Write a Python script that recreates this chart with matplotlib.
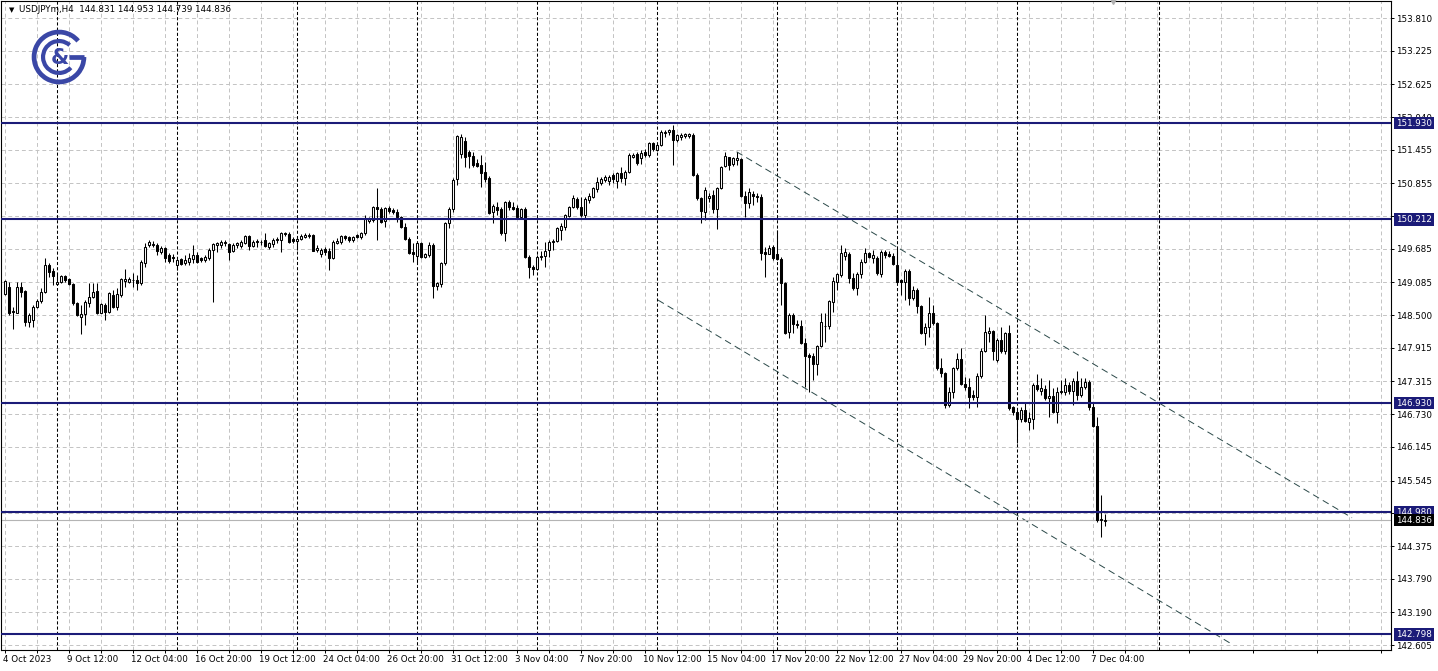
import numpy as np
import matplotlib.pyplot as plt
from matplotlib.patches import Arc
from matplotlib.transforms import ScaledTranslation

plt.rcParams['font.family'] = 'DejaVu Sans'

# USDJPYm H4 candles (4 Oct - 7 Dec 2023)
opens = [
    148.88, 149.00, 148.57, 148.54, 149.00, 148.93, 148.38, 148.41, 148.65, 148.75,
    148.91, 149.40, 149.29, 149.06, 149.09, 149.20, 149.15, 149.06, 148.72, 148.46,
    148.52, 148.72, 148.82, 148.93, 148.54, 148.68, 148.56, 148.86, 148.65, 148.86,
    149.11, 149.09, 149.13, 149.13, 149.07, 149.43, 149.75, 149.75, 149.75, 149.63,
    149.70, 149.58, 149.54, 149.40, 149.50, 149.43, 149.45, 149.50, 149.58, 149.52,
    149.49, 149.52, 149.66, 149.75, 149.75, 149.81, 149.77, 149.65, 149.75, 149.74,
    149.79, 149.91, 149.74, 149.83, 149.81, 149.84, 149.72, 149.77, 149.84, 149.84,
    149.97, 149.95, 149.86, 149.83, 149.87, 149.90, 149.91, 149.93, 149.66, 149.60,
    149.68, 149.65, 149.52, 149.79, 149.81, 149.91, 149.89, 149.84, 149.93, 149.89,
    149.97, 150.18, 150.20, 150.43, 150.40, 150.18, 150.42, 150.38, 150.35, 150.26,
    150.08, 149.87, 149.62, 149.55, 149.79, 149.54, 149.57, 149.75, 149.02, 149.05,
    149.43, 150.15, 150.40, 150.93, 151.38, 151.62, 151.42, 151.34, 151.22, 151.18,
    151.06, 150.95, 150.34, 150.43, 150.40, 149.97, 150.52, 150.43, 150.42, 150.26,
    150.40, 149.54, 149.36, 149.33, 149.54, 149.55, 149.66, 149.80, 149.83, 150.03,
    150.08, 150.28, 150.43, 150.58, 150.43, 150.29, 150.55, 150.62, 150.75, 150.87,
    150.92, 150.90, 151.00, 150.90, 151.04, 150.96, 151.06, 151.33, 151.38, 151.30,
    151.42, 151.36, 151.57, 151.46, 151.54, 151.75, 151.77, 151.81, 151.63, 151.69,
    151.70, 151.71, 151.72, 151.00, 150.59, 150.35, 150.60, 150.65, 150.40, 150.77,
    151.17, 151.32, 151.20, 151.28, 151.29, 150.63, 150.51, 150.66, 150.63, 150.62,
    149.62, 149.60, 149.71, 149.60, 149.50, 149.07, 148.20, 148.50, 148.35, 148.31,
    148.01, 147.78, 147.77, 147.63, 147.95, 148.30, 148.30, 148.74, 149.10, 149.22,
    149.55, 149.60, 149.17, 148.99, 149.23, 149.45, 149.61, 149.53, 149.52, 149.24,
    149.63, 149.60, 149.55, 149.40, 149.12, 149.10, 149.29, 148.81, 148.95, 148.66,
    148.18, 148.29, 148.54, 148.36, 147.56, 147.47, 146.89, 147.13, 147.56, 147.72,
    147.27, 147.22, 147.07, 147.03, 147.41, 147.86, 148.18, 148.21, 147.70, 148.06,
    147.86, 148.18, 146.86, 146.77, 146.64, 146.81, 146.60, 146.65, 147.25, 147.14,
    147.18, 147.02, 147.05, 146.77, 147.12, 147.12, 147.26, 147.15, 147.32, 147.07,
    147.22, 147.31, 146.86, 146.52, 144.84, 144.831,
]
highs = [
    149.13, 149.09, 148.65, 149.09, 149.09, 148.95, 148.54, 148.68, 148.79, 148.99,
    149.52, 149.43, 149.34, 149.25, 149.22, 149.22, 149.16, 149.07, 148.73, 148.68,
    148.77, 149.07, 149.07, 149.07, 148.72, 148.72, 148.91, 148.95, 148.99, 149.16,
    149.32, 149.18, 149.25, 149.22, 149.49, 149.79, 149.84, 149.83, 149.79, 149.74,
    149.72, 149.61, 149.59, 149.50, 149.52, 149.58, 149.61, 149.75, 149.63, 149.54,
    149.58, 149.70, 149.79, 149.81, 149.84, 149.84, 149.79, 149.79, 149.81, 149.84,
    149.93, 149.93, 149.84, 149.86, 149.84, 149.97, 149.81, 149.88, 149.90, 149.99,
    149.99, 149.99, 149.90, 149.91, 149.95, 149.97, 149.97, 149.95, 149.75, 149.70,
    149.72, 149.70, 149.84, 149.88, 149.93, 149.93, 149.91, 149.91, 149.95, 149.99,
    150.29, 150.25, 150.45, 150.77, 150.43, 150.43, 150.45, 150.42, 150.40, 150.27,
    150.15, 149.90, 149.79, 149.81, 149.81, 149.61, 149.81, 149.79, 149.09, 149.45,
    150.17, 150.43, 150.95, 151.72, 151.73, 151.68, 151.45, 151.42, 151.29, 151.36,
    151.24, 150.99, 150.49, 150.52, 150.43, 150.54, 150.56, 150.52, 150.47, 150.42,
    150.43, 149.58, 149.40, 149.58, 149.65, 149.81, 149.84, 149.86, 150.08, 150.15,
    150.31, 150.45, 150.65, 150.61, 150.61, 150.61, 150.68, 150.79, 150.97, 150.97,
    151.00, 151.00, 151.04, 151.06, 151.15, 151.09, 151.40, 151.40, 151.42, 151.45,
    151.47, 151.60, 151.60, 151.58, 151.81, 151.81, 151.83, 151.90, 151.74, 151.76,
    151.76, 151.76, 151.75, 151.04, 150.61, 150.79, 150.68, 150.74, 150.79, 151.17,
    151.42, 151.33, 151.33, 151.42, 151.30, 150.72, 150.77, 150.71, 150.68, 150.67,
    149.72, 149.75, 149.75, 150.02, 149.54, 149.09, 148.54, 148.54, 148.41, 148.41,
    148.09, 147.82, 147.82, 147.97, 148.54, 148.54, 148.77, 149.18, 149.25, 149.75,
    149.70, 149.62, 149.25, 149.27, 149.50, 149.70, 149.63, 149.66, 149.56, 149.66,
    149.66, 149.65, 149.61, 149.70, 149.15, 149.32, 149.32, 149.02, 148.99, 148.68,
    148.36, 148.82, 148.68, 148.37, 147.73, 147.49, 147.22, 147.57, 147.82, 147.91,
    147.39, 147.38, 147.16, 147.47, 147.91, 148.50, 148.29, 148.23, 148.09, 148.29,
    148.20, 148.32, 146.88, 146.80, 146.86, 146.93, 146.77, 147.29, 147.45, 147.38,
    147.25, 147.34, 147.20, 147.22, 147.34, 147.38, 147.31, 147.38, 147.50, 147.38,
    147.38, 147.34, 146.95, 146.68, 145.29, 144.953,
]
lows = [
    148.86, 148.50, 148.25, 148.53, 148.82, 148.31, 148.29, 148.29, 148.63, 148.72,
    148.90, 149.18, 149.04, 149.04, 149.07, 149.09, 149.04, 148.68, 148.49, 148.16,
    148.32, 148.65, 148.81, 148.52, 148.53, 148.41, 148.54, 148.63, 148.59, 148.82,
    149.00, 149.07, 149.00, 148.95, 149.04, 149.36, 149.72, 149.72, 149.58, 149.59,
    149.45, 149.43, 149.45, 149.31, 149.40, 149.40, 149.40, 149.43, 149.43, 149.45,
    149.45, 149.49, 148.74, 149.63, 149.70, 149.74, 149.49, 149.63, 149.70, 149.70,
    149.77, 149.66, 149.72, 149.72, 149.75, 149.72, 149.68, 149.72, 149.79, 149.63,
    149.91, 149.79, 149.79, 149.66, 149.84, 149.88, 149.88, 149.64, 149.63, 149.54,
    149.58, 149.31, 149.50, 149.77, 149.77, 149.84, 149.81, 149.81, 149.88, 149.87,
    149.93, 150.15, 150.17, 149.84, 150.15, 150.08, 150.33, 150.31, 150.17, 150.06,
    149.84, 149.60, 149.45, 149.45, 149.52, 149.52, 149.54, 148.81, 148.95, 149.00,
    149.40, 150.06, 150.34, 150.83, 151.30, 151.15, 151.13, 151.15, 151.15, 150.79,
    150.88, 150.31, 150.15, 150.29, 149.93, 149.83, 150.38, 150.38, 150.24, 150.25,
    149.52, 149.16, 149.22, 149.30, 149.49, 149.36, 149.54, 149.66, 149.81, 149.84,
    150.02, 150.25, 150.41, 150.40, 150.26, 150.24, 150.51, 150.59, 150.70, 150.83,
    150.88, 150.83, 150.86, 150.77, 150.88, 150.83, 151.04, 151.31, 151.18, 151.20,
    151.33, 151.32, 151.43, 151.43, 151.52, 151.68, 151.72, 151.18, 151.59, 151.63,
    151.66, 151.67, 150.99, 150.56, 150.15, 150.20, 150.52, 150.33, 150.04, 150.75,
    151.15, 151.09, 151.17, 151.18, 150.61, 150.26, 150.42, 150.47, 150.52, 149.49,
    149.18, 149.59, 149.49, 149.48, 148.68, 148.17, 148.09, 148.18, 148.27, 147.99,
    147.22, 147.13, 147.34, 147.43, 147.93, 148.02, 148.25, 148.56, 148.95, 149.19,
    149.49, 149.07, 148.95, 148.86, 149.16, 149.43, 149.52, 149.43, 149.22, 149.18,
    149.52, 149.54, 149.40, 149.07, 148.86, 148.77, 148.68, 148.77, 148.54, 148.17,
    147.97, 148.11, 148.32, 147.52, 147.40, 146.84, 146.86, 147.02, 147.52, 147.25,
    147.16, 146.84, 146.98, 146.86, 147.38, 147.84, 148.02, 147.70, 147.66, 147.82,
    147.81, 146.81, 146.72, 146.22, 146.59, 146.59, 146.45, 146.47, 147.14, 147.07,
    146.98, 146.68, 146.75, 146.57, 147.10, 147.07, 147.09, 146.90, 146.98, 147.04,
    147.18, 146.81, 146.50, 144.80, 144.54, 144.739,
]
closes = [
    149.11, 148.54, 148.56, 149.00, 148.91, 148.38, 148.50, 148.65, 148.75, 148.91,
    149.40, 149.27, 149.20, 149.09, 149.20, 149.13, 149.06, 148.72, 148.50, 148.52,
    148.73, 148.82, 148.91, 148.54, 148.70, 148.56, 148.90, 148.65, 148.88, 149.15,
    149.15, 149.15, 149.12, 149.07, 149.45, 149.72, 149.81, 149.77, 149.65, 149.70,
    149.52, 149.47, 149.53, 149.49, 149.41, 149.49, 149.52, 149.58, 149.45, 149.49,
    149.54, 149.66, 149.77, 149.79, 149.81, 149.79, 149.63, 149.75, 149.79, 149.81,
    149.91, 149.74, 149.81, 149.81, 149.80, 149.74, 149.79, 149.84, 149.86, 149.97,
    149.95, 149.81, 149.83, 149.86, 149.91, 149.93, 149.94, 149.65, 149.70, 149.66,
    149.63, 149.52, 149.81, 149.83, 149.91, 149.88, 149.84, 149.90, 149.89, 149.97,
    150.22, 150.22, 150.43, 150.40, 150.17, 150.42, 150.36, 150.34, 150.26, 150.08,
    149.86, 149.61, 149.60, 149.79, 149.54, 149.59, 149.75, 149.02, 149.07, 149.43,
    150.15, 150.40, 150.92, 151.70, 151.69, 151.33, 151.34, 151.18, 151.17, 151.04,
    150.93, 150.33, 150.45, 150.38, 149.97, 150.52, 150.43, 150.40, 150.26, 150.40,
    149.54, 149.36, 149.33, 149.54, 149.56, 149.65, 149.81, 149.83, 150.06, 150.09,
    150.29, 150.43, 150.59, 150.43, 150.29, 150.58, 150.63, 150.77, 150.88, 150.93,
    150.97, 150.97, 150.93, 151.04, 150.95, 151.06, 151.36, 151.37, 151.22, 151.40,
    151.36, 151.58, 151.47, 151.54, 151.77, 151.78, 151.80, 151.63, 151.72, 151.72,
    151.73, 151.73, 151.00, 150.59, 150.36, 150.74, 150.63, 150.40, 150.77, 151.15,
    151.34, 151.18, 151.31, 151.31, 150.63, 150.51, 150.70, 150.63, 150.61, 149.61,
    149.60, 149.70, 149.52, 149.50, 149.07, 148.18, 148.50, 148.34, 148.33, 148.00,
    147.77, 147.75, 147.63, 147.95, 148.38, 148.31, 148.75, 149.11, 149.24, 149.61,
    149.62, 149.16, 148.99, 149.24, 149.45, 149.61, 149.54, 149.58, 149.25, 149.63,
    149.58, 149.56, 149.41, 149.09, 149.09, 149.29, 148.81, 148.95, 148.66, 148.18,
    148.29, 148.54, 148.36, 147.56, 147.47, 146.89, 147.13, 147.56, 147.72, 147.27,
    147.22, 147.04, 147.03, 147.41, 147.86, 148.20, 148.21, 147.86, 148.06, 147.86,
    148.18, 146.84, 146.77, 146.64, 146.80, 146.61, 146.66, 147.25, 147.18, 147.20,
    147.02, 147.05, 146.77, 147.13, 147.15, 147.25, 147.14, 147.32, 147.07, 147.22,
    147.31, 146.86, 146.52, 144.84, 144.86, 144.836,
]

x_labels = ['4 Oct 2023', '9 Oct 12:00', '12 Oct 04:00', '16 Oct 20:00', '19 Oct 12:00',
            '24 Oct 04:00', '26 Oct 20:00', '31 Oct 12:00', '3 Nov 04:00', '7 Nov 20:00',
            '10 Nov 12:00', '15 Nov 04:00', '17 Nov 20:00', '22 Nov 12:00', '27 Nov 04:00',
            '29 Nov 20:00', '4 Dec 12:00', '7 Dec 04:00']
y_ticks = [153.810, 153.225, 152.625, 152.040, 151.455, 150.855, 150.270, 149.685,
           149.085, 148.500, 147.915, 147.315, 146.730, 146.145, 145.545, 144.960,
           144.375, 143.790, 143.190, 142.605]
hidden_ticks = [150.270, 144.960]   # covered by the level tags on the chart
levels = [151.930, 150.212, 146.930, 144.980, 142.798]
last_price = 144.836
title = 'USDJPYm,H4  144.831 144.953 144.739 144.836'

# weekly separators (bar index), chart-shift marker and the two channel lines
week_starts = [13, 43, 73, 103, 133, 163, 193, 223, 253, 288.5]
shift_bar = 277
upper_x, upper_y = [182.9, 336.75], [151.42, 144.88]
lower_x, lower_y = [163.25, 306.75], [148.77, 142.62]

navy = '#1b1b78'
grid_c = '#c3c3c3'
fs = 6.3

W, H = 1438, 671
fig = plt.figure(figsize=(W / 100, H / 100), dpi=100)
ax = fig.add_axes([1 / W, 21 / H, 1390 / W, 649 / H])
ax.set_xlim(-1, 346.5)
ax.set_ylim(142.517, 154.114)

# grid
for v in y_ticks:
    ax.axhline(v, color=grid_c, lw=0.7, ls=(0, (4, 3)), zorder=0)
for b in range(0, 347, 8):
    ax.axvline(b, color=grid_c, lw=0.7, ls=(0, (4, 3)), zorder=0)
for b in week_starts:
    ax.axvline(b, color='black', lw=0.75, ls=(0, (3, 2)), zorder=1)

# candles
o, h, l, c = map(np.array, (opens, highs, lows, closes))
x = np.arange(len(o))
up = c >= o
ax.vlines(x, l, h, color='black', lw=0.75, zorder=3)
ax.bar(x[up], c[up] - o[up], bottom=o[up], width=0.6, facecolor='white',
       edgecolor='black', lw=0.75, zorder=4)
ax.bar(x[~up], o[~up] - c[~up], bottom=c[~up], width=0.6, facecolor='black',
       edgecolor='black', lw=0.75, zorder=4)

# channel
ax.plot(upper_x, upper_y, color='#2a4848', lw=0.7, ls=(0, (7, 4.5)), zorder=2)
ax.plot(lower_x, lower_y, color='#2a4848', lw=0.7, ls=(0, (7, 4.5)), zorder=2)

# horizontal levels + price tags
ax.axhline(last_price, color='#b4b4b4', lw=0.8, zorder=2)
for v in levels:
    ax.axhline(v, color=navy, lw=1.5, zorder=5)
ytr = ax.get_yaxis_transform()
for v in levels:
    ax.text(1.0036, v, f'{v:.3f}', transform=ytr, ha='left', va='center', color='white',
            fontsize=fs, zorder=10, clip_on=False,
            bbox=dict(boxstyle='square,pad=0.2', fc=navy, ec='none'))
ax.text(1.0036, last_price, f'{last_price:.3f}', transform=ytr, ha='left', va='center',
        color='white', fontsize=fs, zorder=10, clip_on=False,
        bbox=dict(boxstyle='square,pad=0.2', fc='black', ec='none'))

# chart shift marker at the top edge
ax.plot([shift_bar], [1.0], marker='v', ms=5, color='#b0b0b0',
        transform=ax.get_xaxis_transform(), clip_on=False, zorder=6)

# axes
ax.yaxis.tick_right()
ax.set_yticks(y_ticks)
ax.set_yticklabels(['' if v in hidden_ticks else f'{v:.3f}' for v in y_ticks])
ax.set_xticks(np.arange(len(x_labels)) * 16)
ax.set_xticklabels(x_labels, ha='left')
ax.set_xticks(np.arange(8, 347, 16), minor=True)
ax.tick_params(axis='y', length=2.2, width=0.7, pad=1.5, labelsize=fs)
ax.tick_params(axis='x', which='both', length=2.2, width=0.7, pad=1.5, labelsize=fs)
shift = ScaledTranslation(-2 / 100, 0, fig.dpi_scale_trans)
for lab in ax.get_xticklabels():
    lab.set_transform(lab.get_transform() + shift)
for s in ax.spines.values():
    s.set_linewidth(0.8)

# header
fig.text(9 / W, 1 - 10 / H, '\u25bc', fontsize=5, va='center', ha='left')
fig.text(19 / W, 1 - 10 / H, title, fontsize=6.3, va='center', ha='left')

# logo
lg = fig.add_axes([30 / W, 1 - 86 / H, 58 / W, 58 / H])
lg.set_xlim(-1, 1)
lg.set_ylim(-1, 1)
lg.axis('off')
logo_c = '#3a47a6'
lg.add_patch(Arc((0, 0), 1.72, 1.72, theta1=40, theta2=360, color=logo_c, lw=3.4))
lg.plot([0.86, 0.36], [0, 0], color=logo_c, lw=3.4, solid_capstyle='butt')
lg.add_patch(Arc((0, 0), 1.1, 1.1, theta1=48, theta2=318, color=logo_c, lw=3.0))
lg.text(0.04, -0.04, '&', fontsize=15, color=logo_c, ha='center', va='center',
        fontweight='bold')

fig.savefig('out.png', dpi=100)
